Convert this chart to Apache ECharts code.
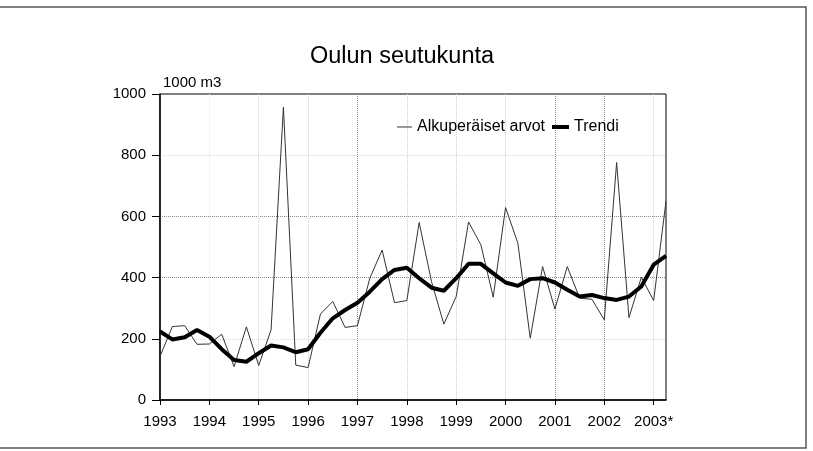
<!DOCTYPE html>
<html>
<head>
<meta charset="utf-8">
<script src="https://cdn.jsdelivr.net/npm/echarts@6/dist/echarts.min.js"></script>
<style>
  html, body { margin: 0; padding: 0; background: #fff; }
  #chart { width: 813px; height: 451px; }
</style>
</head>
<body>
<div id="chart"></div>
<script>
// Quarterly values 1993 Q1 .. 2003 Q2, 1000 m3
const yearLabels = ["1993", "1994", "1995", "1996", "1997", "1998", "1999", "2000", "2001", "2002", "2003*"];
const quarters = [];
for (let y = 1993; y <= 2003; y++) {
  for (let q = 1; q <= 4; q++) {
    if (y === 2003 && q > 2) break;
    quarters.push(y + " Q" + q);
  }
}

const originalValues = [
  142, 240, 243, 182, 183, 215, 109, 239, 113, 229, 957, 114,
  106, 281, 322, 237, 243, 398, 490, 318, 325, 580, 387, 248,
  338, 582, 507, 336, 629, 512, 202, 436, 297, 436, 333, 329,
  262, 776, 269, 401, 325, 650
];
const trendValues = [
  224, 198, 205, 229, 207, 166, 131, 125, 153, 178, 172, 156,
  166, 220, 267, 294, 318, 354, 395, 425, 432, 398, 367, 357,
  398, 445, 445, 414, 384, 373, 395, 398, 384, 360, 338, 343,
  333, 327, 338, 371, 442, 471
];

const FONT = "'Liberation Sans', Arial, sans-serif";

let chart = echarts.init(document.getElementById("chart"));

let legendText = { fontFamily: FONT, fontSize: 16, color: "#000" };

let option = {
  animation: false,
  backgroundColor: "#fff",
  textStyle: { fontFamily: FONT, color: "#000" },
  title: {
    text: "Oulun seutukunta",
    left: 397,
    top: 40,
    textAlign: "center",
    textStyle: { fontFamily: FONT, fontSize: 23.5, fontWeight: "normal", color: "#000" },
  },
  graphic: [
    {
      type: "rect",
      shape: { x: -2, y: 7, width: 808, height: 441 },
      style: { fill: "none", stroke: "#555", lineWidth: 1.5 },
      silent: true,
    },
    {
      type: "text",
      left: 163,
      top: 75,
      style: { text: "1000 m3", font: "15px " + FONT, fill: "#000" },
    },
  ],
  legend: [
    {
      left: 392,
      top: 114,
      icon: "rect",
      itemWidth: 15,
      itemHeight: 1,
      textStyle: legendText,
      data: ["Alkuperäiset arvot"],
    },
    {
      left: 547,
      top: 114,
      icon: "rect",
      itemWidth: 17,
      itemHeight: 4,
      textStyle: legendText,
      data: ["Trendi"],
    },
  ],
  grid: {
    left: 160,
    right: 147,
    top: 94,
    bottom: 51,
    show: true,
    borderColor: "#000",
    borderWidth: 1,
    containLabel: false,
  },
  xAxis: {
    type: "category",
    data: quarters,
    boundaryGap: false,
    axisLine: { lineStyle: { color: "#000", width: 1.5 } },
    axisTick: {
      show: true,
      length: 5,
      interval: (i) => i % 4 === 0,
      lineStyle: { color: "#000" },
    },
    axisLabel: {
      interval: (i) => i % 4 === 0,
      formatter: (v, i) => yearLabels[Math.floor(i / 4)],
      fontFamily: FONT,
      fontSize: 15,
      color: "#000",
      margin: 14,
    },
    splitLine: {
      show: true,
      interval: (i) => i % 4 === 0,
      lineStyle: {
        type: "dotted",
        width: 1,
        color: ["#ccc", "#e4e4e4", "#ccc", "#ccc", "#888", "#ccc", "#ccc", "#ccc", "#888", "#888", "#ccc"],
      },
    },
  },
  yAxis: {
    type: "value",
    min: 0,
    max: 1000,
    interval: 200,
    axisLine: { show: true, lineStyle: { color: "#000", width: 1.5 } },
    axisTick: { show: true, length: 8, lineStyle: { color: "#000" } },
    axisLabel: {
      fontFamily: FONT,
      fontSize: 15,
      color: "#000",
      margin: 14,
      formatter: (v) => String(v),
    },
    splitLine: {
      show: true,
      lineStyle: {
        type: "dotted",
        width: 1,
        color: ["transparent", "#ddd", "#888", "#888", "#ddd", "transparent"],
      },
    },
  },
  series: [
    {
      name: "Alkuperäiset arvot",
      type: "line",
      data: originalValues,
      symbol: "none",
      lineStyle: { color: "#333", width: 1 },
      itemStyle: { color: "#333" },
      z: 2,
    },
    {
      name: "Trendi",
      type: "line",
      data: trendValues,
      symbol: "none",
      lineStyle: { color: "#000", width: 4 },
      itemStyle: { color: "#000" },
      z: 3,
    },
  ],
};

chart.setOption(option);
</script>
</body>
</html>
